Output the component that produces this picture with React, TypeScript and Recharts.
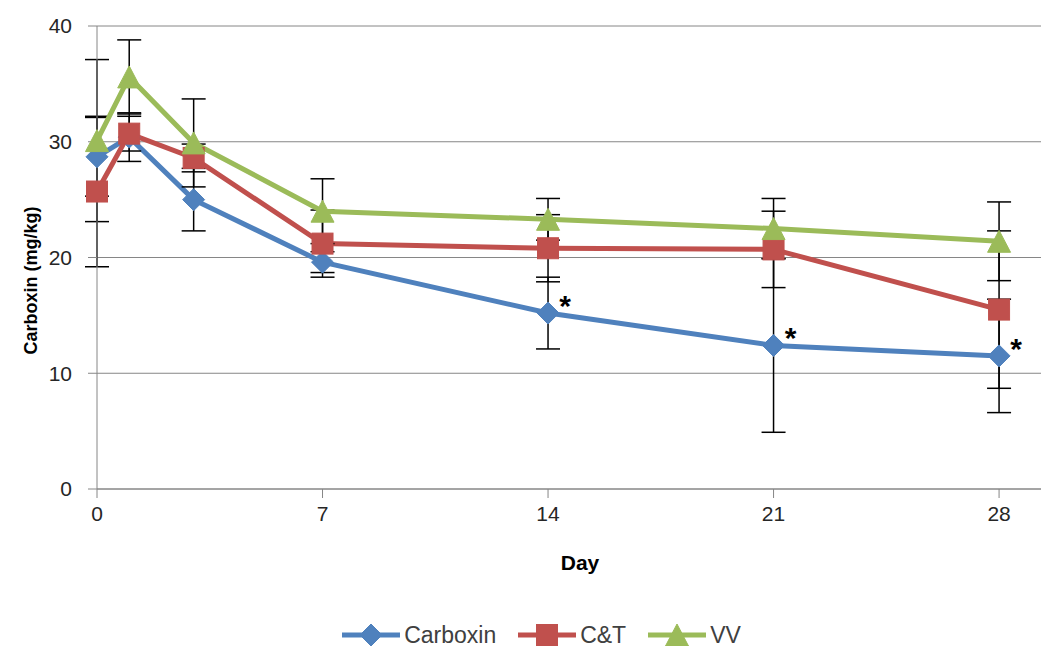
import React from 'react';
import {
  LineChart, Line, XAxis, YAxis, CartesianGrid, ErrorBar, Legend, LabelList, Label,
} from 'recharts';

const days = [0, 1, 3, 7, 14, 21, 28];
const carboxin = [28.7, 30.4, 25.0, 19.6, 15.2, 12.4, 11.5];
const carboxinErr = [3.4, 2.1, 2.7, 0.9, 3.1, 7.5, 4.9];
const ct = [25.7, 30.7, 28.6, 21.2, 20.8, 20.7, 15.5];
const ctErr = [6.5, 1.5, 1.2, 2.9, 2.9, 3.3, 6.8];
const vv = [30.1, 35.6, 29.9, 24.0, 23.3, 22.5, 21.4];
const vvErr = [7.0, 3.2, 3.8, 2.8, 1.8, 2.6, 3.4];
const carboxinSig = [false, false, false, false, true, true, true];

const xTicks = [0, 7, 14, 21, 28];
const yTicks = [0, 10, 20, 30, 40];

const seriesNames = ['Carboxin', 'C&T', 'VV'];
const seriesColors = ['#4F81BD', '#C0504D', '#9BBB59'];

const data = days.map((d, i) => ({
  day: d,
  carboxin: carboxin[i],
  carboxinErr: carboxinErr[i],
  ct: ct[i],
  ctErr: ctErr[i],
  vv: vv[i],
  vvErr: vvErr[i],
  sig: carboxinSig[i] ? 1 : 0,
}));

const FONT = '"Liberation Sans", Arial, sans-serif';

function Marker({ shape, cx, cy, color }: { shape: string; cx: number; cy: number; color: string }) {
  if (shape === 'diamond') {
    const r = 11;
    return <path d={`M${cx},${cy - r}L${cx + r},${cy}L${cx},${cy + r}L${cx - r},${cy}Z`} fill={color} stroke={color} strokeWidth={1} />;
  }
  if (shape === 'square') {
    const r = 10.5;
    return <rect x={cx - r} y={cy - r} width={2 * r} height={2 * r} fill={color} stroke={color} strokeWidth={1} />;
  }
  const w = 11.5;
  const h = 11;
  return <path d={`M${cx},${cy - h}L${cx + w},${cy + h}L${cx - w},${cy + h}Z`} fill={color} stroke={color} strokeWidth={1} />;
}

const shapes = ['diamond', 'square', 'triangle'];

const makeDot = (idx: number) => (props: any) => {
  const { cx, cy, index } = props;
  if (cx == null || cy == null) return <g key={`d${idx}-${index}`} />;
  return (
    <g key={`d${idx}-${index}`}>
      <Marker shape={shapes[idx]} cx={cx} cy={cy} color={seriesColors[idx]} />
    </g>
  );
};

const SigLabel = (props: any) => {
  const { x, y, value } = props;
  if (!value) return null;
  return (
    <text x={x + 17} y={y + 3} fontSize={30} fontWeight="bold" fontFamily={FONT} fill="#000" textAnchor="middle">
      *
    </text>
  );
};

const LegendContent = () => (
  <div
    style={{
      display: 'flex',
      justifyContent: 'center',
      alignItems: 'center',
      height: 22,
      paddingLeft: 26,
      fontFamily: FONT,
      fontSize: 23,
      color: '#404040',
    }}
  >
    {seriesNames.map((n, i) => (
      <div key={n} style={{ display: 'flex', alignItems: 'center', marginRight: i < 2 ? 22 : 0 }}>
        <svg width={58} height={22} style={{ display: 'block' }}>
          <line x1={0} y1={11} x2={58} y2={11} stroke={seriesColors[i]} strokeWidth={5} />
          <Marker shape={shapes[i]} cx={29} cy={11} color={seriesColors[i]} />
        </svg>
        <span style={{ marginLeft: 4, lineHeight: '22px' }}>{n}</span>
      </div>
    ))}
  </div>
);

const YLabel = (props: any) => {
  const vb = props.viewBox || {};
  const cx = vb.x + 29;
  const cy = vb.y + vb.height / 2 + 23;
  return (
    <text
      x={cx}
      y={cy}
      transform={`rotate(-90, ${cx}, ${cy})`}
      textAnchor="middle"
      fontFamily={FONT}
      fontWeight="bold"
      fontSize={18}
      fill="#000"
    >
      Carboxin (mg/kg)
    </text>
  );
};

const XLabel = (props: any) => {
  const vb = props.viewBox || {};
  return (
    <text
      x={vb.x + vb.width / 2 + 7}
      y={vb.y + 81}
      textAnchor="middle"
      fontFamily={FONT}
      fontWeight="bold"
      fontSize={21}
      fill="#000"
    >
      Day
    </text>
  );
};

export default function App() {
  return (
    <LineChart
      width={1041}
      height={638}
      data={data}
      margin={{ top: 18, right: 0, left: 0, bottom: 0 }}
    >
      <CartesianGrid vertical={false} stroke="#868686" strokeWidth={1} />
      <XAxis
        dataKey="day"
        type="number"
        domain={[0, 29.55]}
        ticks={xTicks}
        interval={0}
        height={135}
        tickSize={9}
        tickMargin={8}
        stroke="#868686"
        tick={{ fill: '#262626', fontSize: 21, fontFamily: FONT }}
      >
        <Label content={<XLabel />} />
      </XAxis>
      <YAxis
        type="number"
        domain={[0, 40]}
        ticks={yTicks}
        interval={0}
        width={89}
        tickSize={9}
        tickMargin={16}
        stroke="#868686"
        tick={{ fill: '#262626', fontSize: 21, fontFamily: FONT }}
      >
        <Label content={<YLabel />} />
      </YAxis>
      <Legend verticalAlign="bottom" content={<LegendContent />} wrapperStyle={{ left: 0, width: 1041, bottom: 0 }} />
      <Line
        dataKey="carboxin"
        name="Carboxin"
        stroke={seriesColors[0]}
        strokeWidth={5}
        dot={makeDot(0)}
        activeDot={false}
        isAnimationActive={false}
      >
        <ErrorBar dataKey="carboxinErr" direction="y" width={12} stroke="#000" strokeWidth={1.5} />
        <LabelList dataKey="sig" content={<SigLabel />} />
      </Line>
      <Line
        dataKey="ct"
        name="C&T"
        stroke={seriesColors[1]}
        strokeWidth={5}
        dot={makeDot(1)}
        activeDot={false}
        isAnimationActive={false}
      >
        <ErrorBar dataKey="ctErr" direction="y" width={12} stroke="#000" strokeWidth={1.5} />
      </Line>
      <Line
        dataKey="vv"
        name="VV"
        stroke={seriesColors[2]}
        strokeWidth={5}
        dot={makeDot(2)}
        activeDot={false}
        isAnimationActive={false}
      >
        <ErrorBar dataKey="vvErr" direction="y" width={12} stroke="#000" strokeWidth={1.5} />
      </Line>
    </LineChart>
  );
}
